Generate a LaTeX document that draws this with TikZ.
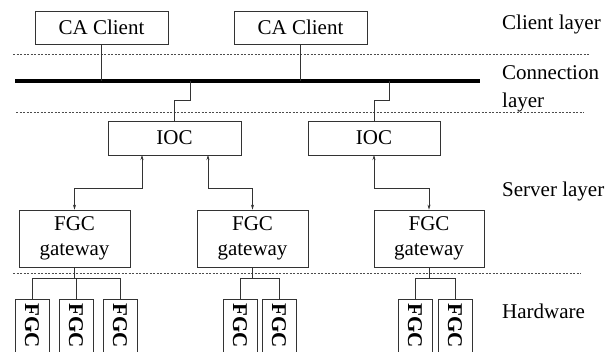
\documentclass[tikz,border=0pt]{standalone}
\usepackage{fontspec}
\setmainfont{Liberation Serif}
\usetikzlibrary{arrows.meta}
\begin{document}
\begin{tikzpicture}[x=1pt,y=-1pt,
  font=\fontsize{21}{25}\selectfont,
  box/.style={draw=black!80,line width=0.7pt,inner sep=0pt,align=center},
  wire/.style={draw=black!80,line width=0.7pt},
  sep/.style={draw=black!70,line width=0.6pt,dash pattern=on 2pt off 1.5pt},
  biarrow/.style={wire,{Stealth[length=5pt,width=3pt]}-{Stealth[length=5pt,width=3pt]}},
  hw/.style={box,minimum width=34pt,minimum height=61pt,anchor=north},
  hwtext/.style={font=\fontsize{21}{25}\selectfont\bfseries,rotate=-90,anchor=west,inner sep=0pt},
  lay/.style={anchor=base west,inner sep=0pt}]
\useasboundingbox (0,0) rectangle (612,352);
% separators
\draw[sep] (13,54) -- (589,54);
\draw[sep] (16,112) -- (584,112);
\draw[sep] (13,273) -- (581,273);
% clients
\node[box,minimum width=133pt,minimum height=33pt] (ca1) at (101.5,27.5) {CA Client};
\node[box,minimum width=133pt,minimum height=33pt] (ca2) at (300.5,27.5) {CA Client};
% bus
\coordinate (busL) at (15,81);
\coordinate (busR) at (480,81);
\draw[line width=4pt] (busL) -- (busR);
\coordinate (b1) at (101.5,81);
\coordinate (b2) at (300.5,81);
\draw[wire] (ca1.south) -- (b1);
\draw[wire] (ca2.south) -- (b2);
% IOCs
\node[box,minimum width=133pt,minimum height=34pt] (ioc1) at (174.5,138) {IOC};
\node[box,minimum width=132pt,minimum height=34pt] (ioc2) at (374,138) {IOC};
\coordinate (t1) at (190,81);
\coordinate (t2) at (389,81);
\draw[wire] (t1) -- (190,100) -- (174.5,100) -- (ioc1.north);
\draw[wire] (t2) -- (389,100) -- (374,100) -- (ioc2.north);
% gateways
\node[box,minimum width=111pt,minimum height=57pt] (g1) at (74.5,238.5) {FGC\\gateway};
\node[box,minimum width=111pt,minimum height=57pt] (g2) at (252.5,238.5) {FGC\\gateway};
\node[box,minimum width=110pt,minimum height=57pt] (g3) at (429,238.5) {FGC\\gateway};
\coordinate (i1a) at (142,155);
\coordinate (i1b) at (208,155);
\coordinate (i2a) at (374,155);
\draw[biarrow] (i1a) -- (142,188) -- (74.5,188) -- (g1.north);
\draw[biarrow] (i1b) -- (208,188) -- (252.5,188) -- (g2.north);
\draw[biarrow] (i2a) -- (374,188) -- (429,188) -- (g3.north);
% hardware
\foreach \n/\x in {h1/32,h2/76,h3/120,h4/240,h5/279,h6/415,h7/455}{
  \node[hw] (\n) at (\x,299) {};
  \node[hwtext] at (\x,303) {FGC};
}
\draw[wire] (g1.south) -- (74.5,278);
\draw[wire] (h1.north) -- (32,278) -- (120,278) -- (h3.north);
\draw[wire] (h2.north) -- (76,278);
\draw[wire] (g2.south) -- (252.5,278);
\draw[wire] (h4.north) -- (240,278) -- (279,278) -- (h5.north);
\draw[wire] (g3.south) -- (429,278);
\draw[wire] (h6.north) -- (415,278) -- (455,278) -- (h7.north);
% layer labels
\node[lay] (l1) at (502,30) {Client layer};
\node[lay] (l2) at (502,80) {Connection};
\node[lay] (l3) at (502,108) {layer};
\node[lay] (l4) at (502,197) {Server layer};
\node[lay] (l5) at (502,318) {Hardware};
\end{tikzpicture}
\end{document}
